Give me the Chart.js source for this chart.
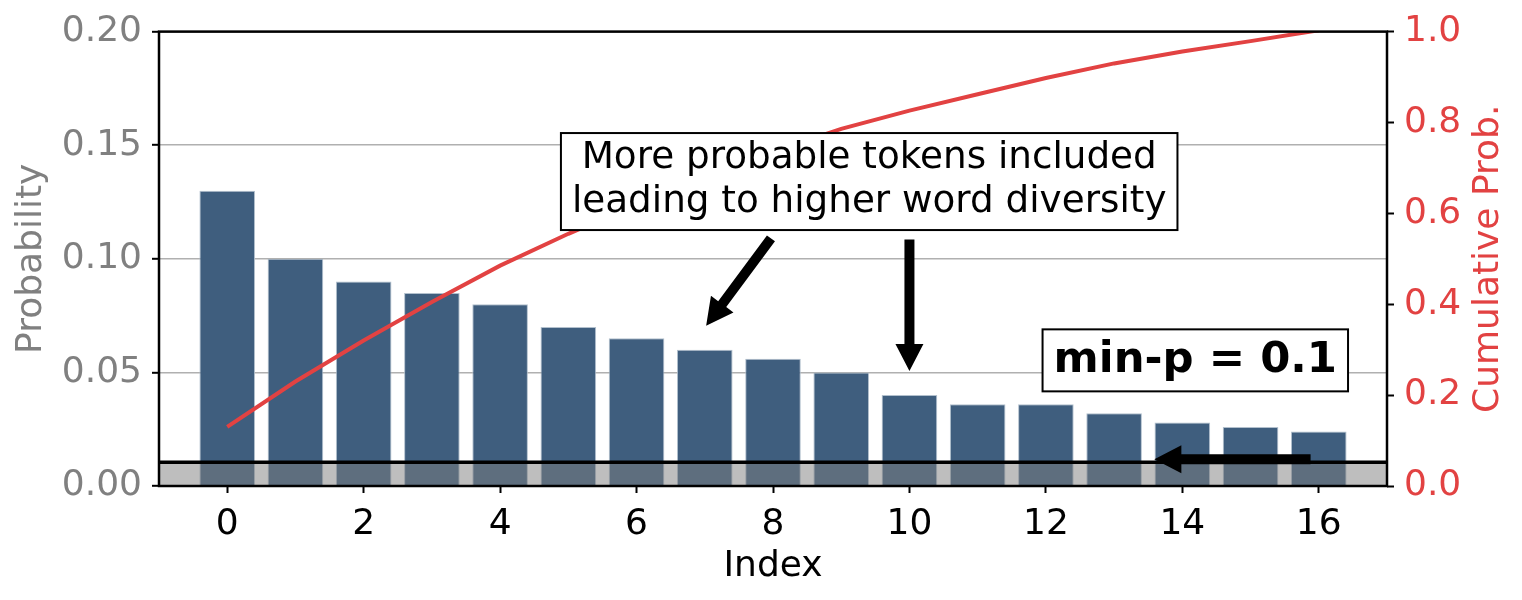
<!DOCTYPE html>
<html>
<head>
<meta charset="utf-8">
<script src="https://cdn.jsdelivr.net/npm/chart.js@4.4.1/dist/chart.umd.min.js"></script>
<style>
html,body{margin:0;padding:0;background:#ffffff;}
#wrap{width:1522px;height:600px;position:relative;}
</style>
</head>
<body>
<div id="wrap"><canvas id="c"></canvas></div>
<script>
// ---- data ----
const categories = [0,1,2,3,4,5,6,7,8,9,10,11,12,13,14,15,16];
const probabilities = [0.130,0.100,0.090,0.085,0.080,0.070,0.065,0.060,0.056,0.050,0.040,0.036,0.036,0.032,0.028,0.026,0.024];
const cumulativeProb = [0.130,0.230,0.320,0.405,0.485,0.555,0.620,0.680,0.736,0.786,0.826,0.862,0.898,0.930,0.956,0.979,1.003];
const xTickValues = [0,2,4,6,8,10,12,14,16];
const leftTickValues = [0,0.05,0.10,0.15,0.20];
const rightTickValues = [0,0.2,0.4,0.6,0.8,1.0];
const minPThreshold = 0.0105;
const calloutLines = ['More probable tokens included','leading to higher word diversity'];
const minPLabel = 'min-p = 0.1';

// ---- annotation anchors (data units) ----
const calloutCenter = {x: 9.41, y: 0.134};
const minPCenter = {x: 14.19, y: 0.0553};
const arrowsData = [
  {from:{x:7.97, y:0.109},  to:{x:7.02, y:0.0705}},
  {from:{x:10.0, y:0.1085}, to:{x:10.0, y:0.0506}},
  {from:{x:15.88,y:0.0118}, to:{x:13.59,y:0.0118}}
];

const FONT = '"DejaVu Sans", "Liberation Sans", sans-serif';
const RED = '#e24242';
const GREY = '#808080';
const BAR = '#3f5e7e';

function drawArrow(ctx, x1, y1, x2, y2, shaftW, headLen, headW){
  const dx = x2-x1, dy = y2-y1, L = Math.hypot(dx,dy);
  const ux = dx/L, uy = dy/L, px = -uy, py = ux;
  const bx = x2 - ux*headLen, by = y2 - uy*headLen;
  ctx.beginPath();
  ctx.moveTo(x1 + px*shaftW/2, y1 + py*shaftW/2);
  ctx.lineTo(bx + px*shaftW/2, by + py*shaftW/2);
  ctx.lineTo(bx + px*headW/2, by + py*headW/2);
  ctx.lineTo(x2, y2);
  ctx.lineTo(bx - px*headW/2, by - py*headW/2);
  ctx.lineTo(bx - px*shaftW/2, by - py*shaftW/2);
  ctx.lineTo(x1 - px*shaftW/2, y1 - py*shaftW/2);
  ctx.closePath();
  ctx.fill();
}

const overlay = {
  id: 'overlay',
  afterDatasetsDraw(chart){
    const {ctx, chartArea:a, scales} = chart;
    const y = scales.y;
    ctx.save();
    const yT = y.getPixelForValue(minPThreshold), y0 = y.getPixelForValue(0);
    ctx.fillStyle = 'rgba(126,126,126,0.5)';
    ctx.fillRect(a.left, yT, a.right-a.left, y0-yT);
    ctx.strokeStyle = '#000';
    ctx.lineWidth = 3.5;
    ctx.beginPath(); ctx.moveTo(a.left, yT); ctx.lineTo(a.right, yT); ctx.stroke();
    ctx.lineWidth = 2.5;
    ctx.strokeRect(a.left, a.top, a.right-a.left, a.bottom-a.top);
    ctx.restore();
  },
  afterDraw(chart){
    const {ctx, chartArea:a, scales} = chart;
    const x = scales.x, y = scales.y;
    ctx.save();
    ctx.fillStyle = '#000';
    arrowsData.forEach(ar => {
      drawArrow(ctx, x.getPixelForValue(ar.from.x), y.getPixelForValue(ar.from.y),
                     x.getPixelForValue(ar.to.x), y.getPixelForValue(ar.to.y), 10, 27, 28);
    });
    // callout box
    ctx.font = '37.3px ' + FONT;
    const lh = 44.5;
    const tw = Math.max(...calloutLines.map(t => ctx.measureText(t).width));
    const cx = x.getPixelForValue(calloutCenter.x), cy = y.getPixelForValue(calloutCenter.y);
    const bw = tw + 22, bh = 97;
    ctx.fillStyle = '#fff';
    ctx.fillRect(cx-bw/2, cy-bh/2, bw, bh);
    ctx.strokeStyle = '#000'; ctx.lineWidth = 2;
    ctx.strokeRect(cx-bw/2, cy-bh/2, bw, bh);
    ctx.fillStyle = '#000'; ctx.textAlign = 'center'; ctx.textBaseline = 'middle';
    calloutLines.forEach((t,i) => {
      ctx.fillText(t, cx, cy + (i - (calloutLines.length-1)/2)*lh - 1);
    });
    // min-p box
    ctx.font = 'bold 43.4px ' + FONT;
    const mw = ctx.measureText(minPLabel).width;
    const mx = x.getPixelForValue(minPCenter.x), my = y.getPixelForValue(minPCenter.y);
    const mbw = mw + 22, mbh = 62;
    ctx.fillStyle = '#fff';
    ctx.fillRect(mx-mbw/2, my-mbh/2, mbw, mbh);
    ctx.strokeStyle = '#000'; ctx.lineWidth = 2;
    ctx.strokeRect(mx-mbw/2, my-mbh/2, mbw, mbh);
    ctx.fillStyle = '#000';
    ctx.fillText(minPLabel, mx, my);
    // right axis title (reads upward)
    ctx.font = '36px ' + FONT;
    ctx.fillStyle = RED;
    ctx.translate(1498, (a.top + a.bottom)/2);
    ctx.rotate(-Math.PI/2);
    ctx.textAlign = 'center'; ctx.textBaseline = 'alphabetic';
    ctx.fillText('Cumulative Prob.', 0, 0);
    ctx.restore();
  }
};

const barData = categories.map((c,i) => ({x:c, y:probabilities[i]}));
const lineData = categories.map((c,i) => ({x:c, y:cumulativeProb[i]}));

new Chart(document.getElementById('c'), {
  data: {
    datasets: [
      {type:'line', data: lineData, yAxisID:'y2', xAxisID:'x', borderColor: RED, borderWidth: 4,
       pointRadius: 0, fill: false, tension: 0, order: 1},
      {type:'bar', data: barData, yAxisID:'y', xAxisID:'x', backgroundColor: BAR,
       borderColor: 'rgba(170,185,200,0.9)', borderWidth: 1, barPercentage: 0.815, categoryPercentage: 1.0, order: 2}
    ]
  },
  options: {
    responsive: true, maintainAspectRatio: false, animation: false, devicePixelRatio: 1,
    layout: {padding: {top: 30, left: 0, right: 0, bottom: 0}},
    plugins: {legend:{display:false}, tooltip:{enabled:false}},
    scales: {
      x: {
        type:'linear', position:'bottom', min:-1, max:17, offset:false,
        afterBuildTicks: s => { s.ticks = xTickValues.map(v => ({value:v})); },
        afterFit: s => { s.height = 114; },
        ticks: {color:'#000', font:{family:FONT, size:36}, padding:10, callback: v => String(v), maxRotation:0, autoSkip:false},
        grid: {offset:false, drawOnChartArea:false, drawTicks:true, tickLength:7, tickColor:'#000', tickWidth:2},
        border: {display:false},
        title: {display:true, text:'Index', color:'#000', font:{family:FONT, size:36}, padding:{top:0, bottom:12}}
      },
      y: {
        type:'linear', position:'left', min:0, max:0.2,
        afterBuildTicks: s => { s.ticks = leftTickValues.map(v => ({value:v})); },
        afterFit: s => { s.width = 159; },
        ticks: {color:GREY, font:{family:FONT, size:36}, padding:10, callback: v => Number(v).toFixed(2)},
        grid: {color:'#b0b0b0', lineWidth:1.6, drawTicks:true, tickLength:7, tickColor:'#000', tickWidth:2},
        border: {display:false},
        title: {display:true, text:'Probability', color:GREY, font:{family:FONT, size:36}, padding:{top:10, bottom:0}}
      },
      y2: {
        type:'linear', position:'right', min:0, max:1,
        afterBuildTicks: s => { s.ticks = rightTickValues.map(v => ({value:v})); },
        afterFit: s => { s.width = 135; },
        ticks: {color:RED, font:{family:FONT, size:36}, padding:10, callback: v => Number(v).toFixed(1)},
        grid: {drawOnChartArea:false, drawTicks:true, tickLength:7, tickColor:'#000', tickWidth:2},
        border: {display:false},
        title: {display:false}
      }
    }
  },
  plugins: [overlay]
});
</script>
</body>
</html>
